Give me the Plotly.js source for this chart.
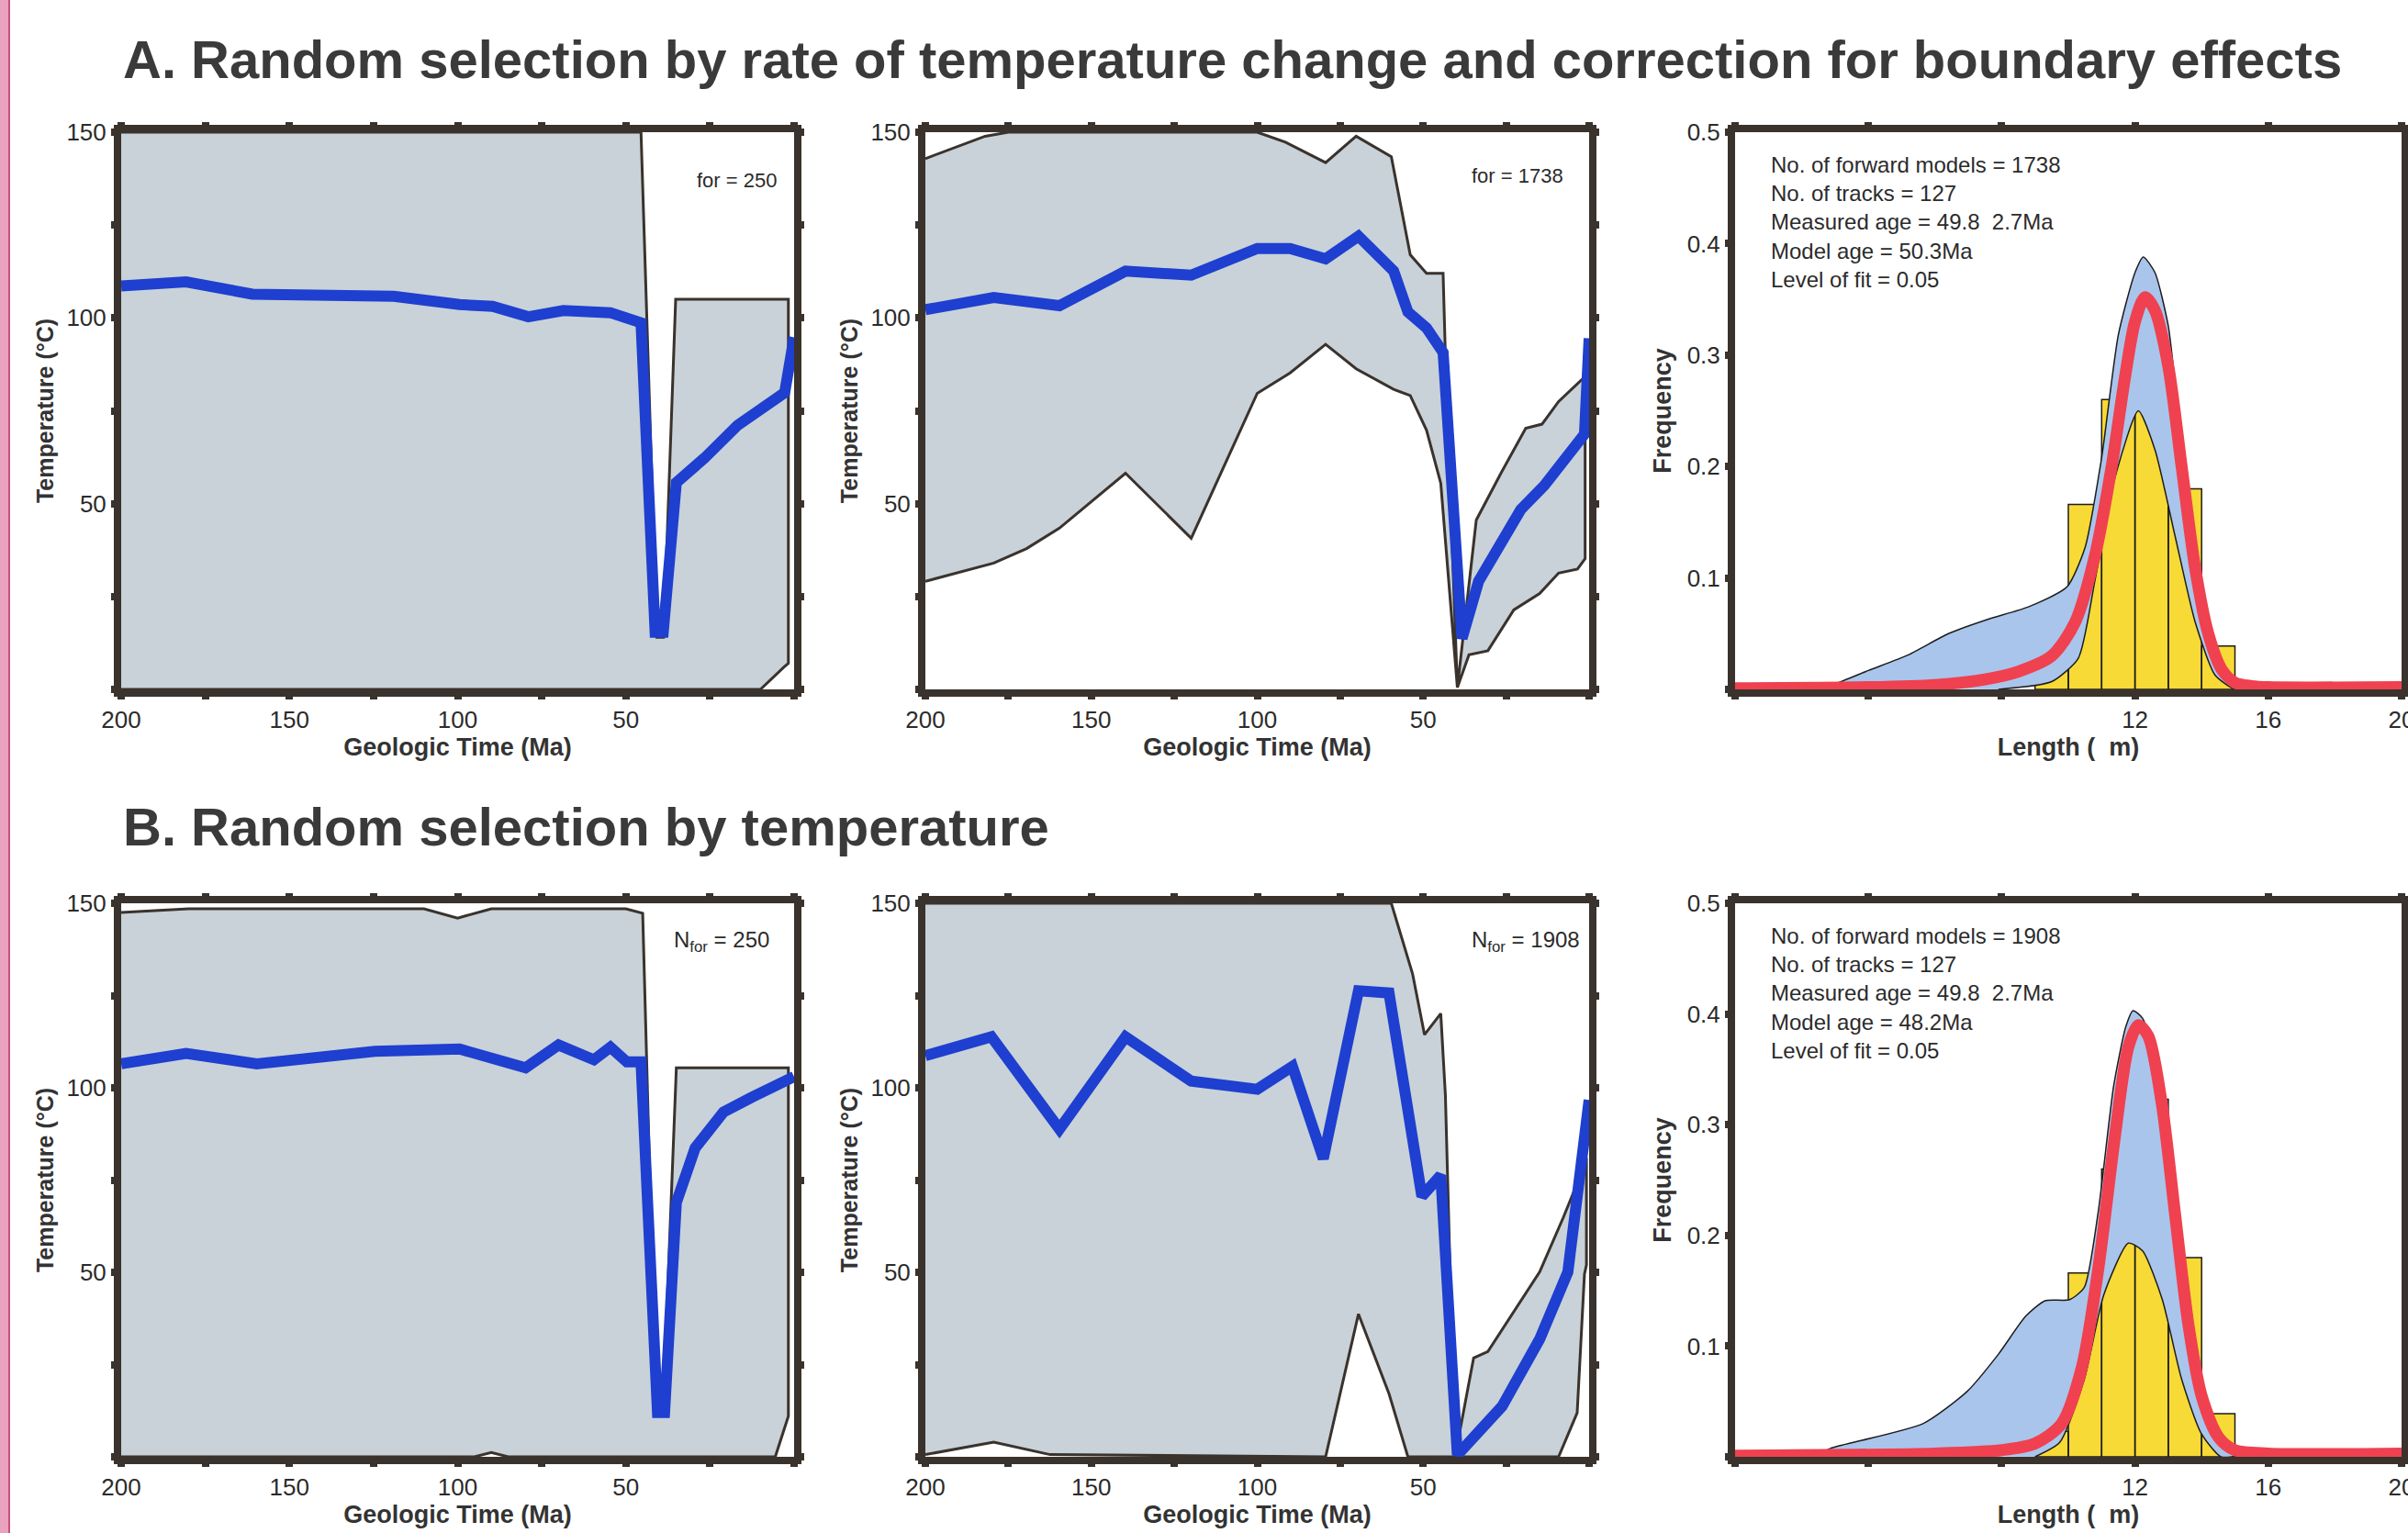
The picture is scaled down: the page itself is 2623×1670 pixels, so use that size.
<!DOCTYPE html>
<html>
<head>
<meta charset="utf-8">
<script src="https://cdn.plot.ly/plotly-3.0.1.min.js"></script>
<style>html,body{margin:0;padding:0;background:#fff;}#chart{width:2623px;height:1670px;}</style>
</head>
<body>
<div id="chart"></div>
<script>
// ---------- DATA ----------
// Panel A1: random selection by rate (N = 250)
const a1Time = [200, 180.7, 161, 119, 99.4, 89.6, 79, 68.6, 54.6, 45.5, 41.3, 38.9, 35, 26.6, 16.8, 9.8, 2.8, 0];
const a1Temp = [108.6, 109.7, 106.4, 105.8, 103.6, 103.1, 100.3, 102, 101.4, 98.7, 15.4, 15.4, 55.7, 62.3, 71.1, 75.5, 79.9, 94.8];
const a1UpperT = [200, 45.5, 40.8, 38.8, 35.2, 1.7];
const a1UpperV = [150, 150, 14, 14, 105, 105];
const a1LowerT = [200, 10, 3, 1.7];
const a1LowerV = [0, 0, 6, 7];

// Panel A2: random selection by rate (N = 1738)
const a2Time = [200, 179.4, 159.6, 139.7, 119.9, 100, 90.1, 79.4, 69.5, 58.9, 54.6, 49, 44, 38.3, 33.3, 20.6, 13.5, 1.4, 0];
const a2Temp = [102.2, 105.5, 103.3, 112.6, 111.5, 118.7, 118.7, 115.9, 122, 112.6, 101.6, 97.3, 90.7, 13.7, 29.1, 48.4, 54.9, 68.7, 94.5];
const a2UpperT = [200, 182, 175, 100, 91.5, 79.4, 70.2, 59.6, 53.9, 49, 44, 43.3, 39.7, 34, 26.2, 19.1, 14.2, 9.2, 2.1, 1.2];
const a2UpperV = [142.9, 148.9, 150, 150, 147.3, 141.8, 148.9, 143.4, 117, 112, 112, 89.6, 0.5, 45.6, 58.8, 70.3, 71.4, 77.5, 83.5, 84];
const a2LowerT = [200, 179.4, 169.5, 159.6, 139.7, 119.9, 100, 90.1, 79.4, 70.2, 58.9, 53.9, 49, 44.7, 39.7, 36.2, 30.5, 22.7, 14.9, 9.2, 3.5, 1.2];
const a2LowerV = [29.1, 34, 37.9, 43.4, 58.2, 40.7, 79.7, 85.2, 92.9, 86.3, 80.8, 79.1, 69.8, 55.5, 0.5, 9.3, 10.4, 21.4, 25.8, 31.3, 32.4, 35.2];

// Panel B1: random selection by temperature (N = 250)
const b1Time = [200, 180.7, 159.7, 124.6, 99.4, 89.6, 79.8, 70, 59.5, 54.6, 49.7, 45.5, 40.6, 38.5, 35, 29.4, 21, 12.6, 0];
const b1Temp = [106.5, 109.3, 106.5, 109.9, 110.5, 107.6, 105.4, 111.6, 107.6, 111, 107, 107, 12, 12, 68.9, 83.7, 93.4, 97.4, 103];
const b1UpperT = [200, 180, 110, 100, 90, 50, 45, 41, 39, 35, 1.7];
const b1UpperV = [147.5, 148.5, 148.5, 146, 148.5, 148.5, 147.3, 12, 12, 105.4, 105.4];
const b1LowerT = [200, 95, 90, 85, 5.6, 1.7];
const b1LowerV = [0, 0, 1.2, 0, 0, 11];

// Panel B2: random selection by temperature (N = 1908)
const b2Time = [200, 180.1, 159.6, 139.7, 119.9, 100, 89.4, 80.1, 69.5, 60.3, 50.4, 44.7, 39.7, 26.2, 14.9, 6.4, 0];
const b2Temp = [108.7, 113.8, 88.8, 113.8, 101.8, 99.6, 105.8, 80.8, 126.3, 125.7, 70.6, 76.3, 0.5, 13.7, 31.9, 50.1, 96.7];
const b2UpperT = [200, 59.6, 53.2, 49.6, 44.7, 43.3, 40.4, 34.8, 30.5, 23.5, 14.9, 7.8, 2.1, 0.8];
const b2UpperV = [150, 150, 130.9, 114.4, 120.1, 97.9, 0, 26.8, 28.5, 38.2, 50.1, 64.8, 77.4, 81];
const b2LowerT = [200, 179.4, 162.4, 79.4, 69.5, 60.3, 54.6, 9.2, 3.6, 1.4, 0.8];
const b2LowerV = [0.6, 4, 0.6, 0, 38.7, 17.1, 0, 0, 11.9, 49.5, 52];

// Track-length histograms (127 measured tracks)
const binCentres = [9.5, 10.5, 11.5, 12.5, 13.5, 14.5];
const binFreq = [0.023, 0.166, 0.260, 0.323, 0.180, 0.039];

// Panel A3: envelope of modelled length distributions and best model
const a3BandUpX = [2.5, 3.0, 4.0, 5.2, 6.4, 7.6, 8.8, 9.96, 10.5, 11, 11.5, 12, 12.25, 12.6, 13, 13.35, 13.8, 14.2, 14.7, 15.3];
const a3BandUpY = [0.002, 0.005, 0.017, 0.031, 0.05, 0.063, 0.074, 0.092, 0.127, 0.208, 0.318, 0.374, 0.388, 0.374, 0.326, 0.234, 0.134, 0.061, 0.017, 0.002];
const a3BandLoX = [7.9, 9.5, 10.3, 10.8, 11.4, 12.1, 12.6, 13.2, 13.8, 14.4, 15.0];
const a3BandLoY = [0, 0.007, 0.028, 0.098, 0.19, 0.25, 0.215, 0.138, 0.061, 0.013, 0];
const a3FitX = [0, 4, 6, 7.5, 8.5, 9.5, 10.2, 10.8, 11.3, 11.7, 12.0, 12.3, 12.6, 13.0, 13.4, 13.8, 14.2, 14.6, 15.0, 15.5, 16, 20];
const a3FitY = [0.001, 0.002, 0.004, 0.009, 0.016, 0.03, 0.06, 0.12, 0.2, 0.28, 0.33, 0.352, 0.34, 0.29, 0.2, 0.11, 0.05, 0.018, 0.006, 0.003, 0.002, 0.002];

// Panel B3
const b3BandUpX = [2.5, 2.86, 5.64, 6.96, 7.91, 8.72, 9.3, 10.04, 10.48, 10.9, 11.36, 11.72, 11.94, 12.23, 12.67, 13.11, 13.55, 13.99, 14.58, 15.16];
const b3BandUpY = [0.002, 0.0076, 0.030, 0.059, 0.093, 0.127, 0.141, 0.142, 0.153, 0.222, 0.335, 0.388, 0.403, 0.396, 0.347, 0.263, 0.165, 0.07, 0.017, 0.002];
const b3BandLoX = [9.0, 9.74, 10.48, 11.06, 11.8, 12.23, 12.82, 13.4, 13.99, 14.58];
const b3BandLoY = [0, 0.013, 0.07, 0.146, 0.193, 0.186, 0.142, 0.07, 0.021, 0];
const b3FitX = [0, 6, 8, 9, 9.8, 10.4, 10.9, 11.4, 11.8, 12.1, 12.4, 12.8, 13.2, 13.6, 14.0, 14.5, 15, 16, 20];
const b3FitY = [0.001, 0.003, 0.006, 0.012, 0.03, 0.08, 0.17, 0.29, 0.37, 0.39, 0.38, 0.32, 0.22, 0.12, 0.055, 0.018, 0.006, 0.003, 0.003];

// Tick labels
const timeTicks = [200, 175, 150, 125, 100, 75, 50, 25, 0];
const timeTickText = ['200', '', '150', '', '100', '', '50', '', ''];
const tempTicks = [0, 25, 50, 75, 100, 125, 150];
const tempTickText = ['', '', '50', '', '100', '', '150'];
const lenTicks = [0, 4, 8, 12, 16, 20];
const lenTickText = ['', '', '', '12', '16', '20'];
const freqTicks = [0, 0.1, 0.2, 0.3, 0.4, 0.5];
const freqTickText = ['', '0.1', '0.2', '0.3', '0.4', '0.5'];

const infoA = ['No. of forward models = 1738', 'No. of tracks = 127', 'Measured age = 49.8  2.7Ma', 'Model age = 50.3Ma', 'Level of fit = 0.05'];
const infoB = ['No. of forward models = 1908', 'No. of tracks = 127', 'Measured age = 49.8  2.7Ma', 'Model age = 48.2Ma', 'Level of fit = 0.05'];

// ---------- STYLE ----------
const W = 2623, H = 1670;
const FRAME = '#3a322c';
const ENV_FILL = '#c8d2d8';
const BLUE = '#1e3fcf';
const RED = '#ef4150';
const BAND = '#a9c5ec';
const YELLOW = '#f8da36';
const FONT = 'Liberation Sans, Arial, sans-serif';
const TXT = '#2b2b2b';

function px2x(a, b) { return [a / W, b / W]; }
function px2y(top, bottom) { return [1 - bottom / H, 1 - top / H]; }

const colX = [px2x(132, 865), px2x(1008, 1731), px2x(1890, 2616)];
const rowY = [px2y(144, 751), px2y(984, 1587)];

function poly(upT, upV, loT, loV) {
  return { x: upT.concat(loT.slice().reverse()), y: upV.concat(loV.slice().reverse()) };
}

const traces = [];
function tempPanel(ax, upT, upV, loT, loV, t, v) {
  const p = poly(upT, upV, loT, loV);
  traces.push({ type: 'scatter', mode: 'lines', x: p.x, y: p.y, fill: 'toself', fillcolor: ENV_FILL,
    line: { color: FRAME, width: 3 }, xaxis: 'x' + ax, yaxis: 'y' + ax, hoverinfo: 'skip', showlegend: false });
  traces.push({ type: 'scatter', mode: 'lines', x: t, y: v, line: { color: BLUE, width: 12 },
    xaxis: 'x' + ax, yaxis: 'y' + ax, showlegend: false });
}
function histPanel(ax, upX, upY, loX, loY, fx, fy) {
  const xa = 'x' + ax, ya = 'y' + ax;
  traces.push({ type: 'bar', x: binCentres, y: binFreq, width: 1, marker: { color: YELLOW, line: { width: 0 } },
    xaxis: xa, yaxis: ya, showlegend: false });
  const p = poly(upX, upY, loX, loY);
  traces.push({ type: 'scatter', mode: 'lines', x: p.x, y: p.y, fill: 'toself', fillcolor: BAND,
    line: { color: '#1d1d1d', width: 1.5, shape: 'spline', smoothing: 0.6 }, xaxis: xa, yaxis: ya, hoverinfo: 'skip', showlegend: false });
  traces.push({ type: 'bar', x: binCentres, y: binFreq, width: 1, marker: { color: 'rgba(0,0,0,0)', line: { color: '#1d1d1d', width: 1.5 } },
    xaxis: xa, yaxis: ya, showlegend: false });
  traces.push({ type: 'scatter', mode: 'lines', x: fx, y: fy, line: { color: RED, width: 13, shape: 'spline', smoothing: 0.8 },
    xaxis: xa, yaxis: ya, showlegend: false });
}

tempPanel('', a1UpperT, a1UpperV, a1LowerT, a1LowerV, a1Time, a1Temp);
tempPanel('2', a2UpperT, a2UpperV, a2LowerT, a2LowerV, a2Time, a2Temp);
histPanel('3', a3BandUpX, a3BandUpY, a3BandLoX, a3BandLoY, a3FitX, a3FitY);
tempPanel('4', b1UpperT, b1UpperV, b1LowerT, b1LowerV, b1Time, b1Temp);
tempPanel('5', b2UpperT, b2UpperV, b2LowerT, b2LowerV, b2Time, b2Temp);
histPanel('6', b3BandUpX, b3BandUpY, b3BandLoX, b3BandLoY, b3FitX, b3FitY);

const tickFont = { family: FONT, size: 26, color: TXT };
const titleFont = { family: FONT, size: 27, color: '#333', weight: 'bold' };
function axisBase() {
  return { showline: true, linecolor: FRAME, linewidth: 8, mirror: 'allticks', ticks: 'outside',
    ticklen: 3, tickwidth: 8, tickcolor: FRAME, showgrid: false, zeroline: false, tickfont: tickFont,
    fixedrange: true, layer: 'above traces', ticklabeloverflow: 'allow' };
}
function timeX(dom, anchor) {
  return Object.assign(axisBase(), { domain: dom, anchor: anchor, range: [200, 0], tickmode: 'array',
    tickvals: timeTicks, ticktext: timeTickText, ticklabelstandoff: 0,
    title: { text: 'Geologic Time (Ma)', font: titleFont, standoff: 2 } });
}
function tempY(dom, anchor) {
  return Object.assign(axisBase(), { domain: dom, anchor: anchor, range: [0, 150], tickmode: 'array',
    tickvals: tempTicks, ticktext: tempTickText,
    title: { text: 'Temperature (°C)', font: Object.assign({}, titleFont, { size: 25 }), standoff: 10 } });
}
function lenX(dom, anchor) {
  return Object.assign(axisBase(), { domain: dom, anchor: anchor, range: [0, 20], tickmode: 'array',
    tickvals: lenTicks, ticktext: lenTickText, ticklabelstandoff: 0,
    title: { text: 'Length (  m)', font: titleFont, standoff: 2 } });
}
function freqY(dom, anchor) {
  return Object.assign(axisBase(), { domain: dom, anchor: anchor, range: [0, 0.5], tickmode: 'array',
    tickvals: freqTicks, ticktext: freqTickText, ticklabelstandoff: 0,
    title: { text: 'Frequency', font: titleFont, standoff: 12 } });
}

function domAnn(ax, x, y, text, opts) {
  return Object.assign({ xref: 'x' + ax + ' domain', yref: 'y' + ax + ' domain', x: x, y: y, text: text,
    showarrow: false, font: { family: FONT, size: 22, color: TXT } }, opts || {});
}

const layout = {
  width: W, height: H, margin: { l: 0, r: 0, t: 0, b: 0 },
  paper_bgcolor: '#ffffff', plot_bgcolor: '#ffffff',
  barmode: 'overlay', showlegend: false,
  xaxis: timeX(colX[0], 'y'), yaxis: tempY(rowY[0], 'x'),
  xaxis2: timeX(colX[1], 'y2'), yaxis2: tempY(rowY[0], 'x2'),
  xaxis3: lenX(colX[2], 'y3'), yaxis3: freqY(rowY[0], 'x3'),
  xaxis4: timeX(colX[0], 'y4'), yaxis4: tempY(rowY[1], 'x4'),
  xaxis5: timeX(colX[1], 'y5'), yaxis5: tempY(rowY[1], 'x5'),
  xaxis6: lenX(colX[2], 'y6'), yaxis6: freqY(rowY[1], 'x6'),
  annotations: [
    { xref: 'paper', yref: 'paper', x: 132 / W, y: 1 - 64 / H, xanchor: 'left', yanchor: 'middle', showarrow: false,
      text: 'A. Random selection by rate of temperature change and correction for boundary effects',
      font: { family: FONT, size: 58, color: '#3a3a3a', weight: 'bold' } },
    { xref: 'paper', yref: 'paper', x: 132 / W, y: 1 - 900 / H, xanchor: 'left', yanchor: 'middle', showarrow: false,
      text: 'B. Random selection by temperature',
      font: { family: FONT, size: 58, color: '#3a3a3a', weight: 'bold' } },
    domAnn('', 0.977, 0.913, 'for = 250', { xanchor: 'right', yanchor: 'middle' }),
    domAnn('2', 0.964, 0.921, 'for = 1738', { xanchor: 'right', yanchor: 'middle' }),
    domAnn('4', 0.966, 0.932, 'N<sub>for</sub> = 250', { xanchor: 'right', yanchor: 'middle', font: { family: FONT, size: 24, color: TXT } }),
    domAnn('5', 0.989, 0.932, 'N<sub>for</sub> = 1908', { xanchor: 'right', yanchor: 'middle', font: { family: FONT, size: 24, color: TXT } }),
    domAnn('3', 0.051, 0.967, infoA.join('<br>'), { xanchor: 'left', yanchor: 'top', align: 'left', font: { family: FONT, size: 24, color: TXT } }),
    domAnn('6', 0.051, 0.967, infoB.join('<br>'), { xanchor: 'left', yanchor: 'top', align: 'left', font: { family: FONT, size: 24, color: TXT } })
  ],
  shapes: [
    { type: 'rect', xref: 'paper', yref: 'paper', x0: 0, x1: 11 / W, y0: 0, y1: 1, fillcolor: '#e9a3bf', line: { width: 0 }, layer: 'below' },
    { type: 'line', xref: 'paper', yref: 'paper', x0: 10 / W, x1: 10 / W, y0: 0, y1: 1, line: { color: '#c8517f', width: 2 } }
  ]
};

Plotly.newPlot('chart', traces, layout, { staticPlot: true, displayModeBar: false });
</script>
</body>
</html>
